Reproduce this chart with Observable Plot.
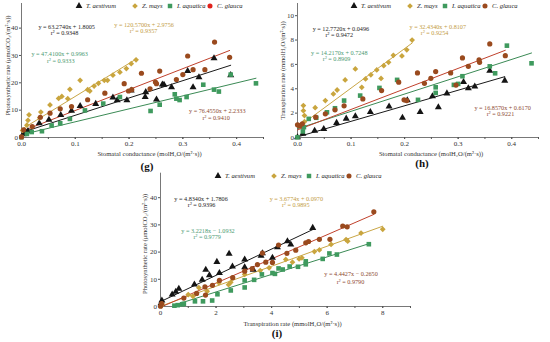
<!DOCTYPE html>
<html><head><meta charset="utf-8">
<script src="https://cdn.jsdelivr.net/npm/d3@7"></script>
<script src="https://cdn.jsdelivr.net/npm/@observablehq/plot@0.6"></script>
<style>
body{margin:0;background:#fff;}
#root{position:relative;width:550px;height:342px;overflow:hidden;font-family:"Liberation Serif",serif;background:#fff;}
.panel{position:absolute;z-index:1;}
.lg{position:absolute;font-style:italic;font-size:6.6px;color:#222;white-space:nowrap;line-height:8px;z-index:5;}
.lgs{position:absolute;z-index:5;}
.tag{position:absolute;font-weight:bold;font-size:11px;color:#111;transform:translateX(-50%);line-height:12px;z-index:6;}
</style></head><body><div id="root"></div>
<script>
const species = ["T. aestivum", "Z. mays", "I. aquatica", "C. glauca"];

// ---- panel (g): stomatal conductance vs photosynthetic rate
const g_ta_x = [0.003,0.008,0.012,0.033,0.051,0.073,0.093,0.109,0.138,0.170,0.178,0.196,0.204,0.230,0.231,0.251,0.262,0.265,0.279,0.309,0.319,0.330,0.358,0.389];
const g_ta_y = [1.2,2.0,2.4,5.2,6.5,8.2,9.8,11.5,12.3,14.6,13.6,13.6,17.2,14.8,16.6,13.9,19.4,19.3,18.4,24.3,18.4,22.0,29.0,22.8];
const g_zm_x = [0.002,0.010,0.012,0.014,0.034,0.036,0.053,0.069,0.075,0.086,0.090,0.109,0.123,0.127,0.135,0.143,0.154,0.160,0.170,0.183,0.195,0.204,0.213];
const g_zm_y = [2.6,4.5,6.3,8.3,7.2,9.3,11.9,14.3,15.0,14.2,17.6,20.9,17.5,17.0,18.8,19.8,20.9,20.9,22.8,23.9,25.2,27.0,28.4];
const g_ia_x = [0.000,0.010,0.019,0.038,0.056,0.072,0.090,0.118,0.152,0.183,0.240,0.257,0.285,0.288,0.294,0.307,0.338,0.358,0.367,0.389,0.436];
const g_ia_y = [0.1,1.3,2.0,2.3,4.4,5.2,6.8,9.9,12.4,14.8,9.7,12.0,15.8,14.2,13.7,14.8,19.3,17.5,16.8,23.0,19.8];
const g_cg_x = [0.000,0.004,0.020,0.035,0.053,0.072,0.093,0.123,0.155,0.191,0.199,0.205,0.223,0.239,0.249,0.251,0.257,0.288,0.300,0.309,0.319,0.341,0.359,0.387];
const g_cg_y = [0.2,2.8,4.0,7.4,8.9,10.5,11.3,13.8,16.2,19.7,17.0,17.5,23.5,17.8,20.3,19.7,24.3,21.2,23.0,29.8,24.8,24.8,34.9,29.3];
const g_slope = [63.2740, 120.5700, 47.4100, 76.4550];
const g_icpt = [1.8005, 2.9756, 0.9963, 2.2333];
const g_r2 = [0.9348, 0.9357, 0.9333, 0.9410];

// ---- panel (h): stomatal conductance vs transpiration rate
const h_ta_x = [0.000,0.010,0.032,0.049,0.073,0.091,0.108,0.136,0.171,0.196,0.205,0.229,0.252,0.263,0.279,0.310,0.319,0.331,0.359,0.387];
const h_ta_y = [0.02,0.30,0.55,0.70,1.20,1.55,1.75,2.10,2.55,1.62,3.05,2.10,3.38,2.48,3.62,4.55,4.04,4.18,5.48,4.67];
const h_zm_x = [0.002,0.011,0.011,0.013,0.013,0.033,0.052,0.067,0.074,0.089,0.108,0.120,0.127,0.137,0.148,0.156,0.161,0.170,0.179,0.195,0.204,0.214];
const h_zm_y = [1.00,2.62,2.20,1.80,1.30,2.45,3.03,3.58,3.90,4.73,5.63,4.12,4.81,5.15,5.55,4.85,5.90,6.17,6.75,6.70,7.20,8.00];
const h_ia_x = [0.000,0.010,0.012,0.021,0.035,0.055,0.070,0.087,0.117,0.153,0.186,0.225,0.258,0.258,0.292,0.300,0.308,0.359,0.369,0.391,0.437];
const h_ia_y = [0.02,0.50,0.85,1.53,1.62,2.07,2.40,3.03,3.44,4.07,4.73,3.09,4.12,3.66,4.32,4.40,5.03,5.84,5.27,7.54,6.09];
const h_cg_x = [0.000,0.004,0.009,0.034,0.052,0.070,0.087,0.122,0.157,0.189,0.199,0.204,0.224,0.237,0.249,0.258,0.286,0.296,0.308,0.319,0.339,0.340,0.359,0.388];
const h_cg_y = [1.04,0.95,1.12,1.67,1.94,2.27,2.60,3.17,3.85,4.54,3.09,3.03,5.30,4.45,4.86,5.41,5.30,4.30,6.53,5.84,6.37,6.17,7.68,6.72];
const h_slope = [12.7720, 32.4340, 14.2170, 16.8570];
const h_icpt = [0.0496, 0.8107, 0.7248, 0.6170];
const h_r2 = [0.9472, 0.9254, 0.8909, 0.9221];

// ---- panel (i): transpiration rate vs photosynthetic rate
const i_ta_x = [0.02,0.05,0.42,0.55,0.66,1.22,1.50,1.63,1.76,2.03,2.12,2.47,2.59,3.03,3.03,3.34,3.62,3.67,4.03,4.21,4.57,4.69,5.48];
const i_ta_y = [1.2,2.2,4.4,5.4,6.5,8.1,9.8,13.5,11.5,16.4,12.3,19.4,14.7,17.3,14.4,13.5,18.7,19.6,17.9,21.8,24.0,22.8,28.9];
const i_zm_x = [0.02,0.05,1.00,1.17,1.38,1.68,2.10,2.45,2.53,3.03,3.59,3.91,4.51,4.75,4.99,5.09,5.54,5.72,6.14,6.68,6.74,7.22,8.00];
const i_zm_y = [0.2,1.0,4.4,3.7,6.9,5.6,8.7,8.0,8.9,11.8,13.2,14.2,17.3,16.3,17.5,17.9,20.2,20.8,22.8,24.6,24.0,27.0,28.4];
const i_ia_x = [0.50,0.62,0.78,0.84,1.24,1.53,1.86,2.05,2.53,3.03,3.03,3.37,3.65,4.03,4.12,4.25,4.40,4.65,4.95,5.23,5.23,5.84,6.08,6.35,7.50];
const i_ia_y = [0.3,0.5,0.8,1.0,1.9,1.9,2.2,4.5,5.9,7.0,9.6,9.8,11.8,12.3,12.0,14.0,13.6,14.7,14.6,16.6,15.5,17.5,19.5,19.1,22.9];
const i_cg_x = [0.00,0.04,0.84,1.30,1.60,1.62,1.87,2.12,2.60,3.03,3.30,3.49,3.67,3.79,4.03,4.25,4.55,4.87,5.23,5.33,5.72,6.10,6.56,6.72,7.68];
const i_cg_y = [0.1,1.1,3.1,4.8,7.2,4.2,7.8,9.6,10.6,13.0,13.9,15.4,19.6,16.3,16.2,22.6,19.5,20.7,23.4,23.9,24.7,24.7,29.6,29.3,34.8];
const i_slope = [4.8340, 3.6774, 3.2218, 4.4427];
const i_icpt = [1.7806, 0.0970, -1.0932, -0.2650];
const i_r2 = [0.9396, 0.9895, 0.9779, 0.9790];

// axis tick labels
const gsTicks = [0, 0.1, 0.2, 0.3, 0.4];
const pnTicks = [0, 10, 20, 30, 40];
const trTicksH = [0, 2, 4, 6, 8, 10];
const trTicksI = [0, 2, 4, 6, 8];

// titles
const xTitleGs = "Stomatal conductance (molH\u2082O/(m\u00B2\u00B7s))";
const xTitleTr = "Transpiration rate (mmolH\u2082O/(m\u00B2\u00B7s))";
const yTitlePn = "Photosynthetic rate (\u03BCmolCO\u2082/(m\u00B2\u00B7s))";
const yTitleTr = "Transpiration rate (mmolH\u2082O/(m\u00B2\u00B7s))";

// styling
const dotColors = ["#141414", "#c9a53e", "#3f9a5e", "#9a4a1e"];
const lineColors = ["#1a1a1a", "#c9a646", "#3b8a55", "#c0412c"];
const eqColors = ["#1e1e1e", "#c39c44", "#4c9a72", "#8e4a32"];
const symbols = ["triangle", "diamond2", "square", "circle"];
const axisColor = "#555";

const fmt4 = d3.format(".4f");
function eqText(k, slope, icpt) {
  return `y = ${fmt4(slope[k])}x ${icpt[k] < 0 ? "\u2212" : "+"} ${fmt4(Math.abs(icpt[k]))}`;
}

function makePanel(cfg) {
  const points = species.flatMap((sp, k) => cfg.xs[k].map((x, j) => ({sp, k, x, y: cfg.ys[k][j]})));
  const fits = species.flatMap((sp, k) => {
    const ext = d3.extent(cfg.xs[k]);
    return ext.map(x => ({sp, k, x, y: cfg.slope[k] * x + cfg.icpt[k]}));
  });
  const eqs = species.map((sp, k) => ({k, x: cfg.eqPos[k][0], y: cfg.eqPos[k][1], t: eqText(k, cfg.slope, cfg.icpt)}));
  const r2s = species.map((sp, k) => ({k, x: cfg.r2Pos[k][0], y: cfg.r2Pos[k][1], t: `r\u00B2 = ${fmt4(cfg.r2[k])}`}));
  return Plot.plot({
    width: cfg.width, height: cfg.height,
    marginLeft: cfg.ml, marginRight: cfg.mr, marginTop: cfg.mt, marginBottom: cfg.mb,
    x: {domain: cfg.xDomain},
    y: {domain: cfg.yDomain},
    color: {type: "identity"},
    symbol: {domain: species, range: symbols},
    style: {fontFamily: "'Liberation Serif', serif", fontSize: "7px", color: "#333", background: "transparent", overflow: "visible"},
    marks: [
      Plot.axisX({ticks: cfg.xMinor, tickSize: 2, tickFormat: () => "", stroke: axisColor, label: null}),
      Plot.axisX({ticks: cfg.xTicks, tickSize: 2, tickPadding: 1.5, tickFormat: cfg.xFmt, stroke: axisColor, fontSize: 7, label: null}),
      Plot.axisY({ticks: cfg.yTicks, tickSize: 2, tickPadding: 1.5, tickFormat: cfg.yFmt, stroke: axisColor, fontSize: 7, label: null}),
      Plot.ruleX([cfg.xDomain[0]], {stroke: axisColor, strokeWidth: 0.8}),
      Plot.ruleY([cfg.yDomain[0]], {stroke: axisColor, strokeWidth: 0.8}),
      Plot.line(fits, {x: "x", y: "y", z: "sp", stroke: d => lineColors[d.k], strokeWidth: 1}),
      Plot.dot(points, {x: "x", y: "y", symbol: "sp", fill: d => dotColors[d.k], r: 2.6, stroke: "none"}),
      Plot.text(eqs, {x: "x", y: "y", text: "t", fill: d => eqColors[d.k], fontSize: 6.2}),
      Plot.text(r2s, {x: "x", y: "y", text: "t", fill: d => eqColors[d.k], fontSize: 6.2}),
      Plot.text([cfg.xTitle], {text: d => d, frameAnchor: "bottom", textAnchor: "middle", lineAnchor: "middle", dy: cfg.xTitleDy, dx: cfg.xTitleDx, fontSize: 6.6, fill: "#333"}),
      Plot.text([cfg.yTitle], {text: d => d, frameAnchor: "left", textAnchor: "middle", lineAnchor: "middle", rotate: -90, dx: cfg.yTitleDx, dy: cfg.yTitleDy, fontSize: 6.6, fill: "#333"})
    ]
  });
}

const root = document.getElementById("root");
function place(el, left, top) {
  el.classList.add("panel");
  el.style.left = left + "px";
  el.style.top = top + "px";
  root.appendChild(el);
}

const gPlot = makePanel({
  xs: [g_ta_x, g_zm_x, g_ia_x, g_cg_x], ys: [g_ta_y, g_zm_y, g_ia_y, g_cg_y],
  slope: g_slope, icpt: g_icpt, r2: g_r2,
  width: 275, height: 160, ml: 21, mr: 12, mt: 3, mb: 23,
  xDomain: [0, 0.45], yDomain: [0, 49],
  xTicks: gsTicks, xMinor: d3.range(0, 0.451, 0.05), xFmt: d3.format(".1f"),
  yTicks: pnTicks, yFmt: d3.format("d"),
  eqPos: [[0.084, 40.5], [0.228, 41.0], [0.071, 30.4], [0.364, 9.6]],
  r2Pos: [[0.080, 38.2], [0.227, 38.8], [0.073, 28.0], [0.362, 7.3]],
  xTitle: xTitleGs, xTitleDy: 16, xTitleDx: 7, yTitle: yTitlePn, yTitleDx: -14, yTitleDy: -5
});
place(gPlot, 0, 0);

const hPlot = makePanel({
  xs: [h_ta_x, h_zm_x, h_ia_x, h_cg_x], ys: [h_ta_y, h_zm_y, h_ia_y, h_cg_y],
  slope: h_slope, icpt: h_icpt, r2: h_r2,
  width: 275, height: 160, ml: 22, mr: 12, mt: 3, mb: 23,
  xDomain: [0, 0.45], yDomain: [0, 11],
  xTicks: gsTicks, xMinor: d3.range(0, 0.451, 0.05), xFmt: d3.format(".1f"),
  yTicks: trTicksH, yFmt: d3.format("d"),
  eqPos: [[0.081, 8.90], [0.262, 9.06], [0.078, 6.93], [0.383, 2.42]],
  r2Pos: [[0.078, 8.42], [0.256, 8.58], [0.073, 6.43], [0.379, 1.92]],
  xTitle: xTitleGs, xTitleDy: 16, xTitleDx: 13, yTitle: yTitleTr, yTitleDx: -15, yTitleDy: 0
});
place(hPlot, 275, 0);

const iPlot = makePanel({
  xs: [i_ta_x, i_zm_x, i_ia_x, i_cg_x], ys: [i_ta_y, i_zm_y, i_ia_y, i_cg_y],
  slope: i_slope, icpt: i_icpt, r2: i_r2,
  width: 330, height: 163, ml: 60, mr: 20, mt: 7.7, mb: 22,
  xDomain: [0, 9], yDomain: [0, 49],
  xTicks: trTicksI, xMinor: d3.range(0, 9.01, 1), xFmt: d3.format("d"),
  yTicks: pnTicks, yFmt: d3.format("d"),
  eqPos: [[1.46, 39.5], [4.89, 39.5], [1.71, 27.7], [6.86, 11.8]],
  r2Pos: [[1.48, 37.3], [4.87, 37.3], [1.68, 25.4], [6.84, 9.1]],
  xTitle: xTitleTr, xTitleDy: 17, xTitleDx: 7, yTitle: yTitlePn, yTitleDx: -16, yTitleDy: 4
});
place(iPlot, 100, 165);

// legends
const legendOffsets = [0, 56, 91, 131];
const symbolTypes = [d3.symbolTriangle, d3.symbolDiamond2, d3.symbolSquare, d3.symbolCircle];
function legend(x0, yc, colors) {
  species.forEach((sp, k) => {
    const cx = x0 + legendOffsets[k];
    const s = document.createElementNS("http://www.w3.org/2000/svg", "svg");
    s.setAttribute("width", 8); s.setAttribute("height", 8);
    s.setAttribute("class", "lgs");
    s.style.left = (cx - 4) + "px"; s.style.top = (yc - 4) + "px";
    const p = document.createElementNS("http://www.w3.org/2000/svg", "path");
    p.setAttribute("d", d3.symbol(symbolTypes[k], 20)());
    p.setAttribute("transform", "translate(4,4)");
    p.setAttribute("fill", colors[k]);
    s.appendChild(p);
    root.appendChild(s);
    const t = document.createElement("div");
    t.className = "lg";
    t.textContent = sp;
    t.style.left = (cx + 7) + "px"; t.style.top = (yc - 4.5) + "px";
    root.appendChild(t);
  });
}
legend(79, 6, [dotColors[0], dotColors[1], dotColors[2], "#e0221c"]);
legend(354, 6, dotColors);
legend(218, 176, dotColors);

function tag(text, x, y) {
  const d = document.createElement("div");
  d.className = "tag"; d.textContent = text;
  d.style.left = x + "px"; d.style.top = (y - 6) + "px";
  root.appendChild(d);
}
tag("(g)", 147, 166);
tag("(h)", 422, 163);
tag("(i)", 277, 333);
</script>
</body></html>
